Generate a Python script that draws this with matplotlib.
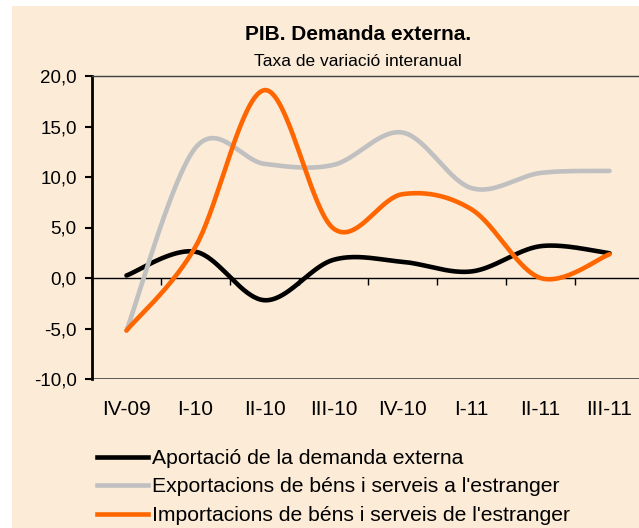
import numpy as np
import matplotlib
matplotlib.use('Agg')
import matplotlib.pyplot as plt
from matplotlib.lines import Line2D
from matplotlib.ticker import FuncFormatter

plt.rcParams['font.family'] = ['Liberation Sans', 'DejaVu Sans']

quarters = ['IV-09', 'I-10', 'II-10', 'III-10', 'IV-10', 'I-11', 'II-11', 'III-11']
aportacio = [0.25, 2.6, -2.2, 1.8, 1.6, 0.65, 3.15, 2.45]
exportacions = [-5.2, 12.9, 11.3, 11.2, 14.4, 8.9, 10.4, 10.6]
importacions = [-5.2, 3.1, 18.6, 4.9, 8.3, 6.8, 0.0, 2.35]

labels = ['Aportació de la demanda externa',
          "Exportacions de béns i serveis a l'estranger",
          "Importacions de béns i serveis de l'estranger"]
colors = ['black', '#C0C0C0', '#FF6600']

bg = '#FBEBD7'


def smooth(y, n=40):
    # excel style smoothed line (catmull-rom bezier through the points)
    y = np.asarray(y, float)
    x = np.arange(len(y), dtype=float)
    px = np.concatenate([[x[0]], x, [x[-1]]])
    py = np.concatenate([[y[0]], y, [y[-1]]])
    xs, ys = [], []
    t = np.linspace(0, 1, n)
    for i in range(len(y) - 1):
        p0 = np.array([x[i], y[i]])
        p3 = np.array([x[i + 1], y[i + 1]])
        p1 = p0 + (np.array([px[i + 2], py[i + 2]]) - np.array([px[i], py[i]])) / 6
        p2 = p3 - (np.array([px[i + 3], py[i + 3]]) - np.array([px[i + 1], py[i + 1]])) / 6
        b = ((1 - t) ** 3)[:, None] * p0 + (3 * (1 - t) ** 2 * t)[:, None] * p1 \
            + (3 * (1 - t) * t ** 2)[:, None] * p2 + (t ** 3)[:, None] * p3
        xs.append(b[:, 0])
        ys.append(b[:, 1])
    return np.concatenate(xs), np.concatenate(ys)


fig = plt.figure(figsize=(6.39, 5.28), dpi=100)
fig.patch.set_facecolor('white')
fig.patches.append(plt.Rectangle((12 / 639, 0), 1, 1 - 6 / 528, transform=fig.transFigure,
                                 facecolor=bg, edgecolor='none', zorder=-5))

ax = fig.add_axes([92 / 639, 1 - 379 / 528, 552 / 639, 303 / 528])
ax.set_facecolor(bg)

for vals, c in zip([aportacio, exportacions, importacions], colors):
    sx, sy = smooth(vals)
    ax.plot(sx, sy, color=c, lw=3.3, solid_capstyle='round', zorder=3)

ax.set_xlim(-0.5, len(quarters) - 0.5)
ax.set_ylim(-10, 20)
ax.set_yticks(np.arange(-10, 21, 5))
ax.yaxis.set_major_formatter(FuncFormatter(lambda v, p: ('%.1f' % v).replace('.', ',')))

ax.spines['bottom'].set_position(('data', 0))
ax.spines['bottom'].set_linewidth(1)
ax.spines['left'].set_linewidth(2)
ax.spines['top'].set_linewidth(1)
ax.spines['top'].set_color('#404040')
ax.spines['right'].set_visible(False)
ax.axhline(-10, color='#404040', lw=1.2, zorder=2)

ax.set_xticks(range(len(quarters)))
ax.set_xticklabels(quarters)
ax.set_xticks(np.arange(-0.5, len(quarters), 1), minor=True)
ax.tick_params(axis='x', which='major', length=0, pad=88, labelsize=15)
ax.tick_params(axis='x', which='minor', length=5, width=1, direction='out')
ax.tick_params(axis='y', length=5, width=1.5, direction='out', labelsize=13.5, pad=6)

fig.text(358 / 639, 1 - 35 / 528, 'PIB. Demanda externa.',
         ha='center', va='center', fontsize=15, fontweight='bold')
fig.text(358 / 639, 1 - 61 / 528, 'Taxa de variació interanual',
         ha='center', va='center', fontsize=12.5)

handles = [Line2D([], [], color=c, lw=3.3) for c in colors]
fig.legend(handles, labels, loc='upper left', bbox_to_anchor=(97 / 639, 1 - 449 / 528),
           frameon=False, fontsize=15.2, handlelength=2.4, handletextpad=0.22,
           labelspacing=0.45, borderaxespad=0, borderpad=0)

fig.savefig('out.png', dpi=100, facecolor=fig.get_facecolor())
